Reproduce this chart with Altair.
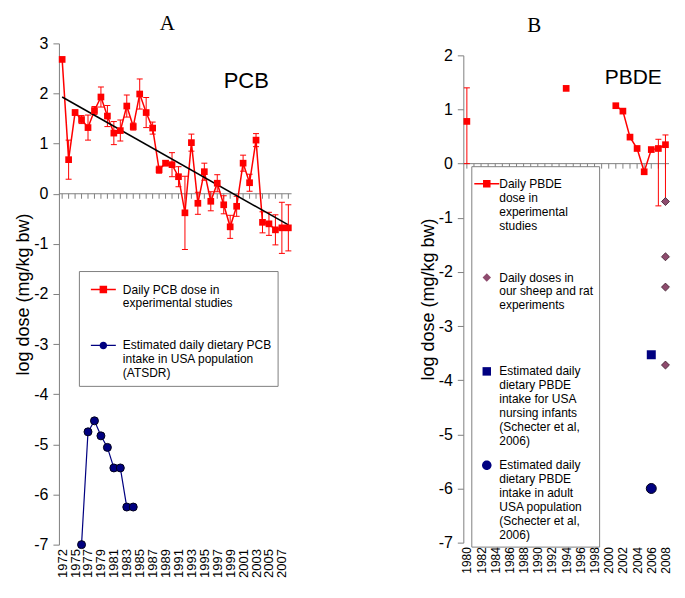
import altair as alt
import pandas as pd

SANS = "Liberation Sans"
SERIF = "Liberation Serif"
RED = "#FF0000"
NAVY = "#000080"
NAVY_EDGE = "#00001A"
MAUVE = "#8E4B6E"
GREY = "#808080"

# ---------------- Panel A (PCB) ----------------
pcb_years = ["1972", "1974", "1975", "1976", "1977", "1978", "1979", "1980", "1981",
             "1982", "1983", "1984", "1985", "1986", "1987", "1988", "1989", "1990",
             "1991", "1992", "1993", "1994", "1995", "1996", "1997", "1998", "1999",
             "2000", "2001", "2002", "2003", "2004", "2005", "2006", "2007", "2008"]
pcb_dose = [2.68, 0.68, 1.62, 1.48, 1.32, 1.66, 1.93, 1.55, 1.21, 1.26, 1.75, 1.34,
            1.99, 1.62, 1.31, 0.48, 0.61, 0.58, 0.34, -0.38, 1.02, -0.19, 0.44, -0.15,
            0.21, -0.22, -0.66, -0.25, 0.61, 0.22, 1.07, -0.57, -0.60, -0.72, -0.68, -0.68]
pcb_err = [0.0, 0.39, 0.05, 0.08, 0.25, 0.08, 0.20, 0.21, 0.23, 0.21, 0.22, 0.07,
           0.30, 0.30, 0.12, 0.07, 0.05, 0.24, 0.20, 0.73, 0.17, 0.22, 0.17, 0.19,
           0.17, 0.18, 0.23, 0.20, 0.16, 0.17, 0.13, 0.21, 0.23, 0.30, 0.51, 0.46]
pcb_intake_years = ["1976", "1977", "1978", "1979", "1980", "1981", "1982", "1983", "1984"]
pcb_intake = [-7.0, -4.75, -4.53, -4.83, -5.06, -5.47, -5.47, -6.25, -6.25]
pcb_trend_years = ["1972", "2008"]
pcb_trend = [1.93, -0.62]
pcb_legend = ["Daily PCB dose in|experimental studies",
              "Estimated daily dietary PCB|intake in USA population|(ATSDR)"]

# ---------------- Panel B (PBDE) ----------------
pbde_axis_years = ["1980", "1981", "1982", "1983", "1984", "1985", "1986", "1987", "1988",
                   "1989", "1990", "1991", "1992", "1993", "1994", "1995", "1996", "1997",
                   "1998", "1999", "2000", "2001", "2002", "2003", "2004", "2005", "2006",
                   "2007", "2008"]
pbde_years = ["1980", "1994", "2001", "2002", "2003", "2004", "2005", "2006", "2007", "2008"]
pbde_dose = [0.78, 1.39, 1.07, 0.97, 0.49, 0.28, -0.15, 0.26, 0.28, 0.35]
pbde_lo = [0.0, None, None, None, None, None, None, None, -0.78, -0.70]
pbde_hi = [1.40, None, None, None, None, None, None, None, 0.45, 0.53]
sheep_years = ["2008", "2008", "2008", "2008"]
sheep_dose = [-0.70, -1.72, -2.28, -3.72]
infant_years = ["2006"]
infant_dose = [-3.53]
adult_years = ["2006"]
adult_dose = [-6.0]
pbde_legend = ["Daily PBDE|dose in|experimental|studies",
               "Daily doses in|our sheep and rat|experiments",
               "Estimated daily|dietary PBDE|intake for USA|nursing infants|(Schecter et al,|2006)",
               "Estimated daily|dietary PBDE|intake in adult|USA population|(Schecter et al,|2006)"]

# legend symbols (custom paths in the unit square)
SYM_LINE_SQ = "M-1,-0.06L1,-0.06L1,0.06L-1,0.06ZM-0.3,-0.3L0.3,-0.3L0.3,0.3L-0.3,0.3Z"
SYM_LINE_CI = ("M-1,-0.05L1,-0.05L1,0.05L-1,0.05Z"
               "M-0.3,0A0.3,0.3,0,1,1,0.3,0A0.3,0.3,0,1,1,-0.3,0Z")
SYM_DIAMOND = "M0,-0.34L0.34,0L0,0.34L-0.34,0Z"
SYM_SQUARE = "M-0.34,-0.34L0.34,-0.34L0.34,0.34L-0.34,0.34Z"
SYM_CIRCLE = "M-0.38,0A0.38,0.38,0,1,1,0.38,0A0.38,0.38,0,1,1,-0.38,0Z"

# ---------------- data frames ----------------
dfA = pd.DataFrame({"year": pcb_years, "dose": pcb_dose, "err": pcb_err})
dfA["lo"] = dfA["dose"] - dfA["err"]
dfA["hi"] = dfA["dose"] + dfA["err"]
dfA_err = dfA[dfA["err"] > 0]
dfA_int = pd.DataFrame({"year": pcb_intake_years, "dose": pcb_intake})
dfA_trend = pd.DataFrame({"year": pcb_trend_years, "dose": pcb_trend})
dfA_ticks = pd.DataFrame({"year": pcb_years})
dfA_leg = pd.DataFrame({"series": pcb_legend})

seg = []
s = 0
for i, y in enumerate(pbde_years):
    if i > 0 and int(y) - int(pbde_years[i - 1]) > 1:
        s += 1
    seg.append(s)
dfB = pd.DataFrame({"year": pbde_years, "dose": pbde_dose, "lo": pbde_lo, "hi": pbde_hi, "seg": seg})
dfB_err = dfB[dfB["lo"].notna()]
dfB_sheep = pd.DataFrame({"year": sheep_years, "dose": sheep_dose})
dfB_inf = pd.DataFrame({"year": infant_years, "dose": infant_dose})
dfB_adult = pd.DataFrame({"year": adult_years, "dose": adult_dose})
dfB_ticks = pd.DataFrame({"year": pbde_axis_years})
dfB_leg = pd.DataFrame({"series": pbde_legend})
one = pd.DataFrame({"k": [0]})


def panel(years, label_years, ydom, yrange, lab_size):
    xenc = alt.X("year:O",
                 scale=alt.Scale(type="point", domain=years, padding=0.5),
                 axis=alt.Axis(values=label_years, labelAngle=-90, domain=False, ticks=False,
                               labelFontSize=lab_size, labelPadding=4, title=None, grid=False,
                               labelFont=SANS, labelColor="black"))

    def yenc(field):
        return alt.Y(field, type="quantitative",
                     scale=alt.Scale(domain=ydom, nice=False, zero=False, range=yrange),
                     axis=alt.Axis(values=list(range(ydom[0], ydom[1] + 1)),
                                   labelExpr="'' + datum.value",
                                   title="log dose (mg/kg bw)", grid=False,
                                   tickSize=6, labelPadding=5, labelFontSize=16,
                                   titleFontSize=18, titlePadding=1))
    return xenc, yenc


def legend(lx, ly, pad, sym_off, lab_off, row_pad):
    return alt.Legend(title=None, orient="none", legendX=lx, legendY=ly, direction="vertical",
                      padding=pad, strokeColor=GREY, fillColor="white", symbolSize=625,
                      symbolStrokeWidth=0, symbolOpacity=1, symbolOffset=sym_off,
                      labelOffset=lab_off, labelFont=SANS, labelFontSize=12,
                      labelColor="black", labelLimit=400, labelBaseline="middle",
                      labelExpr="split(datum.label, '|')", gridAlign="all",
                      rowPadding=row_pad)


# ---------------- Chart A ----------------
xA, yA = panel(pcb_years, pcb_years[::2], [-7, 3], [502, 0], 13)

zeroA = alt.Chart(one).mark_rule(color=GREY, strokeWidth=1).encode(y=alt.YDatum(0))
ticksA = alt.Chart(dfA_ticks).mark_rule(color=GREY, y2Offset=5).encode(
    x=xA, y=alt.YDatum(0), y2=alt.Y2Datum(0))
errA = alt.Chart(dfA_err).mark_rule(color=RED, strokeWidth=1).encode(x=xA, y=yA("lo"), y2="hi:Q")
capLoA = alt.Chart(dfA_err).mark_tick(color=RED, size=6, thickness=1, opacity=1).encode(x=xA, y=yA("lo"))
capHiA = alt.Chart(dfA_err).mark_tick(color=RED, size=6, thickness=1, opacity=1).encode(x=xA, y=yA("hi"))
lineA = alt.Chart(dfA).mark_line(color=RED, strokeWidth=1.5).encode(x=xA, y=yA("dose"))
trendA = alt.Chart(dfA_trend).mark_line(color="black", strokeWidth=1.5).encode(x=xA, y=yA("dose"))
ptsA = alt.Chart(dfA).mark_square(color=RED, size=45, opacity=1).encode(x=xA, y=yA("dose"))
intLineA = alt.Chart(dfA_int).mark_line(color=NAVY, strokeWidth=1.2).encode(x=xA, y=yA("dose"))
intPtsA = alt.Chart(dfA_int).mark_circle(color=NAVY, size=64, opacity=1, stroke=NAVY_EDGE,
                                         strokeWidth=1).encode(x=xA, y=yA("dose"))
textA = alt.Chart(one).mark_text(text="PCB", font=SANS, fontSize=22, align="left",
                                 baseline="alphabetic", color="black").encode(
    x=alt.XDatum("1998", type="ordinal"), y=alt.YDatum(2.11))
legA = legend(20, 228, 6, 6, 7, 9)
legDrvA = alt.Chart(dfA_leg).mark_point(filled=True, opacity=0).encode(
    color=alt.Color("series:N", scale=alt.Scale(domain=pcb_legend, range=[RED, NAVY]), legend=legA),
    shape=alt.Shape("series:N", scale=alt.Scale(domain=pcb_legend, range=[SYM_LINE_SQ, SYM_LINE_CI]),
                    legend=legA))

chartA = alt.layer(zeroA, ticksA, errA, capLoA, capHiA, lineA, trendA, ptsA, intLineA, intPtsA,
                   textA, legDrvA).properties(
    width=233, height=502,
    title=alt.TitleParams("A", font=SERIF, fontSize=21, fontWeight="normal", anchor="middle",
                          frame="group", dx=-8, offset=-16, baseline="alphabetic", color="black"))

# ---------------- Chart B ----------------
xB, yB = panel(pbde_axis_years, pbde_axis_years[::2], [-7, 2], [500, 12], 12)

zeroB = alt.Chart(one).mark_rule(color=GREY, strokeWidth=1).encode(y=alt.YDatum(0))
ticksB = alt.Chart(dfB_ticks).mark_rule(color=GREY, y2Offset=5).encode(
    x=xB, y=alt.YDatum(0), y2=alt.Y2Datum(0))
errB = alt.Chart(dfB_err).mark_rule(color=RED, strokeWidth=1).encode(x=xB, y=yB("lo"), y2="hi:Q")
capLoB = alt.Chart(dfB_err).mark_tick(color=RED, size=6, thickness=1, opacity=1).encode(x=xB, y=yB("lo"))
capHiB = alt.Chart(dfB_err).mark_tick(color=RED, size=6, thickness=1, opacity=1).encode(x=xB, y=yB("hi"))
lineB = alt.Chart(dfB).mark_line(color=RED, strokeWidth=1.5).encode(x=xB, y=yB("dose"), detail="seg:N")
ptsB = alt.Chart(dfB).mark_square(color=RED, size=45, opacity=1).encode(x=xB, y=yB("dose"))
sheepB = alt.Chart(dfB_sheep).mark_point(shape="diamond", filled=True, color=MAUVE, size=64, opacity=1,
                                         stroke="#3A1A2A", strokeWidth=0.8).encode(x=xB, y=yB("dose"))
infB = alt.Chart(dfB_inf).mark_square(color=NAVY, size=81, opacity=1).encode(x=xB, y=yB("dose"))
adultB = alt.Chart(dfB_adult).mark_circle(color=NAVY, size=100, opacity=1, stroke=NAVY_EDGE,
                                          strokeWidth=1).encode(x=xB, y=yB("dose"))
textB = alt.Chart(one).mark_text(text="PBDE", font=SANS, fontSize=21, align="left",
                                 baseline="alphabetic", color="black", dx=-4).encode(
    x=alt.XDatum("2000", type="ordinal"), y=alt.YDatum(1.48))
legB = legend(8, 123, 5, -2, 0, 5)
legDrvB = alt.Chart(dfB_leg).mark_point(filled=True, opacity=0).encode(
    color=alt.Color("series:N", scale=alt.Scale(domain=pbde_legend, range=[RED, MAUVE, NAVY, NAVY]),
                    legend=legB),
    shape=alt.Shape("series:N", scale=alt.Scale(domain=pbde_legend,
                                                range=[SYM_LINE_SQ, SYM_DIAMOND, SYM_SQUARE, SYM_CIRCLE]),
                    legend=legB))

chartB = alt.layer(zeroB, ticksB, errB, capLoB, capHiB, lineB, ptsB, sheepB, infB, adultB,
                   textB, legDrvB).properties(
    width=206, height=500,
    title=alt.TitleParams("B", font=SERIF, fontSize=21, fontWeight="normal", anchor="middle",
                          frame="group", dx=-32, offset=-10, baseline="alphabetic", color="black"))

chart = alt.hconcat(chartA, chartB, spacing=126).resolve_scale(
    x="independent", y="independent", color="independent", shape="independent"
).resolve_legend(color="independent", shape="independent").properties(
    padding={"left": 6, "top": 5, "right": 5, "bottom": 5}
).configure_view(stroke=None).configure_axis(
    labelFont=SANS, titleFont=SANS, labelColor="black", titleColor="black",
    titleFontWeight="normal", domainColor=GREY, tickColor=GREY
)

chart.save("out.html", embed_options={"renderer": "svg", "actions": False})
